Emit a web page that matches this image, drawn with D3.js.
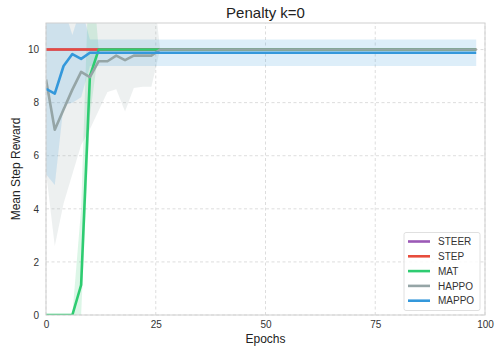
<!DOCTYPE html>
<html>
<head>
<meta charset="utf-8">
<script src="https://cdn.jsdelivr.net/npm/d3@7"></script>
<style>
  html, body { margin: 0; padding: 0; background: #fff; }
  svg { display: block; font-family: "Liberation Sans", Arial, sans-serif; }
</style>
</head>
<body>
<svg id="chart" width="495" height="348"></svg>
<script>
// Training curves, one point every 2 epochs
const epochs = [0,2,4,6,8,10,12,14,16,18,20,22,24,26,28,30,32,34,36,38,40,42,44,46,48,50,52,54,56,58,60,62,64,66,68,70,72,74,76,78,80,82,84,86,88,90,92,94,96,98];

const steer = [10,10,10,10,10,10,10,10,10,10,10,10,10,10,10,10,10,10,10,10,10,10,10,10,10,10,10,10,10,10,10,10,10,10,10,10,10,10,10,10,10,10,10,10,10,10,10,10,10,10];
const step  = [10,10,10,10,10,10,10,10,10,10,10,10,10,10,10,10,10,10,10,10,10,10,10,10,10,10,10,10,10,10,10,10,10,10,10,10,10,10,10,10,10,10,10,10,10,10,10,10,10,10];

const mat   = [0,0,0,0,1.13,9.0,10,10,10,10,10,10,10,10,10,10,10,10,10,10,10,10,10,10,10,10,10,10,10,10,10,10,10,10,10,10,10,10,10,10,10,10,10,10,10,10,10,10,10,10];
const matLo = [0,0,0,0,0,7.5,10,10,10,10,10,10,10,10,10,10,10,10,10,10,10,10,10,10,10,10,10,10,10,10,10,10,10,10,10,10,10,10,10,10,10,10,10,10,10,10,10,10,10,10];
const matHi = [0,0,0,0,4.0,14,10,10,10,10,10,10,10,10,10,10,10,10,10,10,10,10,10,10,10,10,10,10,10,10,10,10,10,10,10,10,10,10,10,10,10,10,10,10,10,10,10,10,10,10];

const happo   = [8.87,6.98,7.74,8.49,9.16,8.96,9.56,9.56,9.77,9.6,9.77,9.77,9.77,10,10,10,10,10,10,10,10,10,10,10,10,10,10,10,10,10,10,10,10,10,10,10,10,10,10,10,10,10,10,10,10,10,10,10,10,10];
const happoLo = [5.4,2.6,4.2,5.3,6.4,7.0,7.7,8.4,8.5,7.67,8.55,8.6,8.6,10,10,10,10,10,10,10,10,10,10,10,10,10,10,10,10,10,10,10,10,10,10,10,10,10,10,10,10,10,10,10,10,10,10,10,10,10];
const happoHi = [13,13,13,13,13,13,13,13,13,13,13,13,13,10,10,10,10,10,10,10,10,10,10,10,10,10,10,10,10,10,10,10,10,10,10,10,10,10,10,10,10,10,10,10,10,10,10,10,10,10];

const mappo   = [8.52,8.34,9.38,9.83,9.65,9.88,9.88,9.88,9.88,9.88,9.88,9.88,9.88,9.88,9.88,9.88,9.88,9.88,9.88,9.88,9.88,9.88,9.88,9.88,9.88,9.88,9.88,9.88,9.88,9.88,9.88,9.88,9.88,9.88,9.88,9.88,9.88,9.88,9.88,9.88,9.88,9.88,9.88,9.88,9.88,9.88,9.88,9.88,9.88,9.88];
const mappoLo = [5.3,4.9,7.9,8.0,8.2,9.38,9.38,9.38,9.38,9.38,9.38,9.38,9.38,9.38,9.38,9.38,9.38,9.38,9.38,9.38,9.38,9.38,9.38,9.38,9.38,9.38,9.38,9.38,9.38,9.38,9.38,9.38,9.38,9.38,9.38,9.38,9.38,9.38,9.38,9.38,9.38,9.38,9.38,9.38,9.38,9.38,9.38,9.38,9.38,9.38];
const mappoHi = [12.5,12.2,11.6,10.55,11.6,10.38,10.38,10.38,10.38,10.38,10.38,10.38,10.38,10.38,10.38,10.38,10.38,10.38,10.38,10.38,10.38,10.38,10.38,10.38,10.38,10.38,10.38,10.38,10.38,10.38,10.38,10.38,10.38,10.38,10.38,10.38,10.38,10.38,10.38,10.38,10.38,10.38,10.38,10.38,10.38,10.38,10.38,10.38,10.38,10.38];

const xTicks = [0, 25, 50, 75, 100];
const yTicks = [0, 2, 4, 6, 8, 10];

const series = [
  { name: "STEER", color: "#9b59b6", mean: steer },
  { name: "STEP",  color: "#e74c3c", mean: step },
  { name: "MAT",   color: "#2ecc71", mean: mat,   lo: matLo,   hi: matHi },
  { name: "HAPPO", color: "#95a5a6", mean: happo, lo: happoLo, hi: happoHi },
  { name: "MAPPO", color: "#3498db", mean: mappo, lo: mappoLo, hi: mappoHi }
];

const svg = d3.select("#chart");
const margin = { left: 46, right: 10, top: 23, bottom: 33 };
const W = 495, H = 348;
const x = d3.scaleLinear().domain([0, 100]).range([margin.left, W - margin.right]);
const y = d3.scaleLinear().domain([0, 11]).range([H - margin.bottom, margin.top]);

svg.append("defs").append("clipPath").attr("id", "plotclip")
  .append("rect")
  .attr("x", x(0)).attr("y", y(11))
  .attr("width", x(100) - x(0)).attr("height", y(0) - y(11));

// grid
const grid = svg.append("g");
grid.selectAll("line.gx").data(xTicks).join("line")
  .attr("x1", d => x(d)).attr("x2", d => x(d))
  .attr("y1", y(0)).attr("y2", y(11))
  .attr("stroke", "#d9d9d9").attr("stroke-width", 0.9).attr("stroke-dasharray", "3,2.5");
grid.selectAll("line.gy").data(yTicks).join("line")
  .attr("x1", x(0)).attr("x2", x(100))
  .attr("y1", d => y(d)).attr("y2", d => y(d))
  .attr("stroke", "#d9d9d9").attr("stroke-width", 0.9).attr("stroke-dasharray", "3,2.5");

// spread bands underneath, curves on top
const plot = svg.append("g").attr("clip-path", "url(#plotclip)");
series.filter(s => s.lo).forEach(s => {
  const area = d3.area()
    .x((d, i) => x(epochs[i]))
    .y0((d, i) => y(s.lo[i]))
    .y1((d, i) => y(s.hi[i]));
  plot.append("path").datum(s.mean)
    .attr("d", area).attr("fill", s.color).attr("fill-opacity", 0.17);
});
const line = d3.line().x((d, i) => x(epochs[i])).y(d => y(d));
series.forEach(s => {
  plot.append("path").datum(s.mean)
    .attr("d", line).attr("fill", "none")
    .attr("stroke", s.color).attr("stroke-width", 2.6)
    .attr("stroke-linejoin", "round");
});

// frame
svg.append("rect")
  .attr("x", x(0)).attr("y", y(11))
  .attr("width", x(100) - x(0)).attr("height", y(0) - y(11))
  .attr("fill", "none").attr("stroke", "#d0d0d0").attr("stroke-width", 1);

// axes
const xAxis = svg.append("g").attr("transform", `translate(0,${y(0)})`)
  .call(d3.axisBottom(x).tickValues(xTicks).tickSize(0).tickPadding(6));
const yAxis = svg.append("g").attr("transform", `translate(${x(0)},0)`)
  .call(d3.axisLeft(y).tickValues(yTicks).tickSize(0).tickPadding(7));
[xAxis, yAxis].forEach(a => {
  a.select(".domain").remove();
  a.selectAll("text").attr("fill", "#333").attr("font-size", 10)
    .attr("font-family", "Liberation Sans, Arial, sans-serif");
});

// titles
svg.append("text").attr("x", (x(0) + x(100)) / 2).attr("y", 18)
  .attr("text-anchor", "middle").attr("font-size", 15).attr("fill", "#222")
  .text("Penalty k=0");
svg.append("text").attr("x", (x(0) + x(100)) / 2).attr("y", 343)
  .attr("text-anchor", "middle").attr("font-size", 12).attr("fill", "#222")
  .text("Epochs");
svg.append("text")
  .attr("transform", `translate(20,${(y(0) + y(11)) / 2}) rotate(-90)`)
  .attr("text-anchor", "middle").attr("font-size", 12).attr("fill", "#222")
  .text("Mean Step Reward");

// legend
const lg = svg.append("g");
lg.append("rect").attr("x", 404).attr("y", 232.5).attr("width", 76).attr("height", 78)
  .attr("rx", 2).attr("fill", "#fff").attr("fill-opacity", 0.85)
  .attr("stroke", "#dcdcdc").attr("stroke-width", 0.9);
series.forEach((s, i) => {
  const yy = 241.5 + i * 14.8;
  lg.append("line").attr("x1", 408).attr("x2", 430).attr("y1", yy).attr("y2", yy)
    .attr("stroke", s.color).attr("stroke-width", 2.6);
  lg.append("text").attr("x", 438).attr("y", yy + 3.6)
    .attr("font-size", 10).attr("fill", "#333").text(s.name);
});
</script>
</body>
</html>
